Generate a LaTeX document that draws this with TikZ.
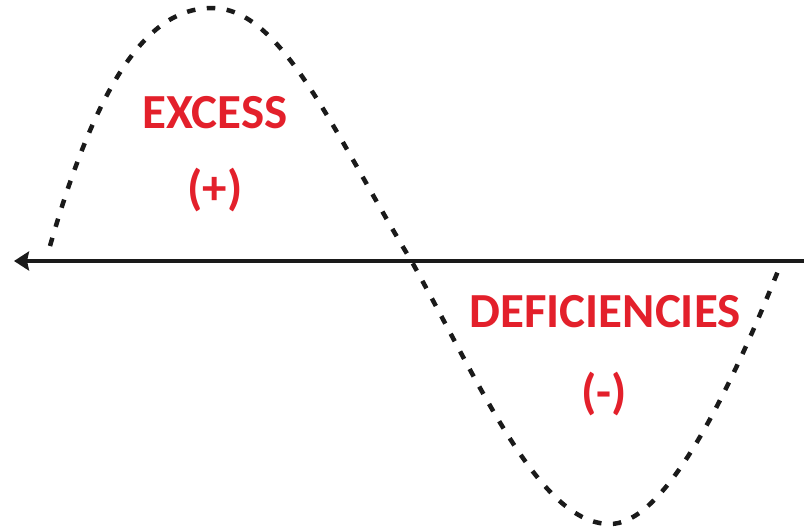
\documentclass[tikz,border=0pt]{standalone}
\usepackage{fontspec}
\setmainfont{Carlito}
\usetikzlibrary{arrows.meta}
\definecolor{exred}{HTML}{E3202B}
\definecolor{wavegray}{HTML}{1A1A1A}
\begin{document}
\begin{tikzpicture}[x=1pt,y=-1pt,
  lbl/.style={text=exred,font=\bfseries\fontsize{49}{58}\selectfont,inner sep=0pt},
  wave/.style={line width=4.5pt,dash pattern=on 8.5pt off 11.5pt,wavegray},
  axis/.style={line width=3.5pt,wavegray,-{Stealth[length=15pt,width=19pt,inset=2pt]}}]
\useasboundingbox[fill=white] (0,0) rectangle (804,528);
\coordinate (R) at (804,261);
\coordinate (L) at (14,261);
\draw[axis] (R) -- (L);
\coordinate (s) at (50,246);
\coordinate (pk) at (212,8);
\coordinate (z) at (412,262);
\coordinate (tr) at (610,524);
\coordinate (e) at (780,266);
\draw[wave] (s) .. controls (105,54) and (160,8) .. (pk)
  .. controls (282,8) and (332,130) .. (z)
  .. controls (482,388) and (540,524) .. (tr)
  .. controls (660,524) and (720,416) .. (e);
\node[lbl,anchor=base] (ex) at (215,128) {EXCESS};
\node[lbl,anchor=base] (plus) at (215,204) {(+)};
\node[lbl,anchor=base] (def) at (605,327) {DEFICIENCIES};
\node[lbl,anchor=base] (minus) at (604,408) {(-)};
\end{tikzpicture}
\end{document}
